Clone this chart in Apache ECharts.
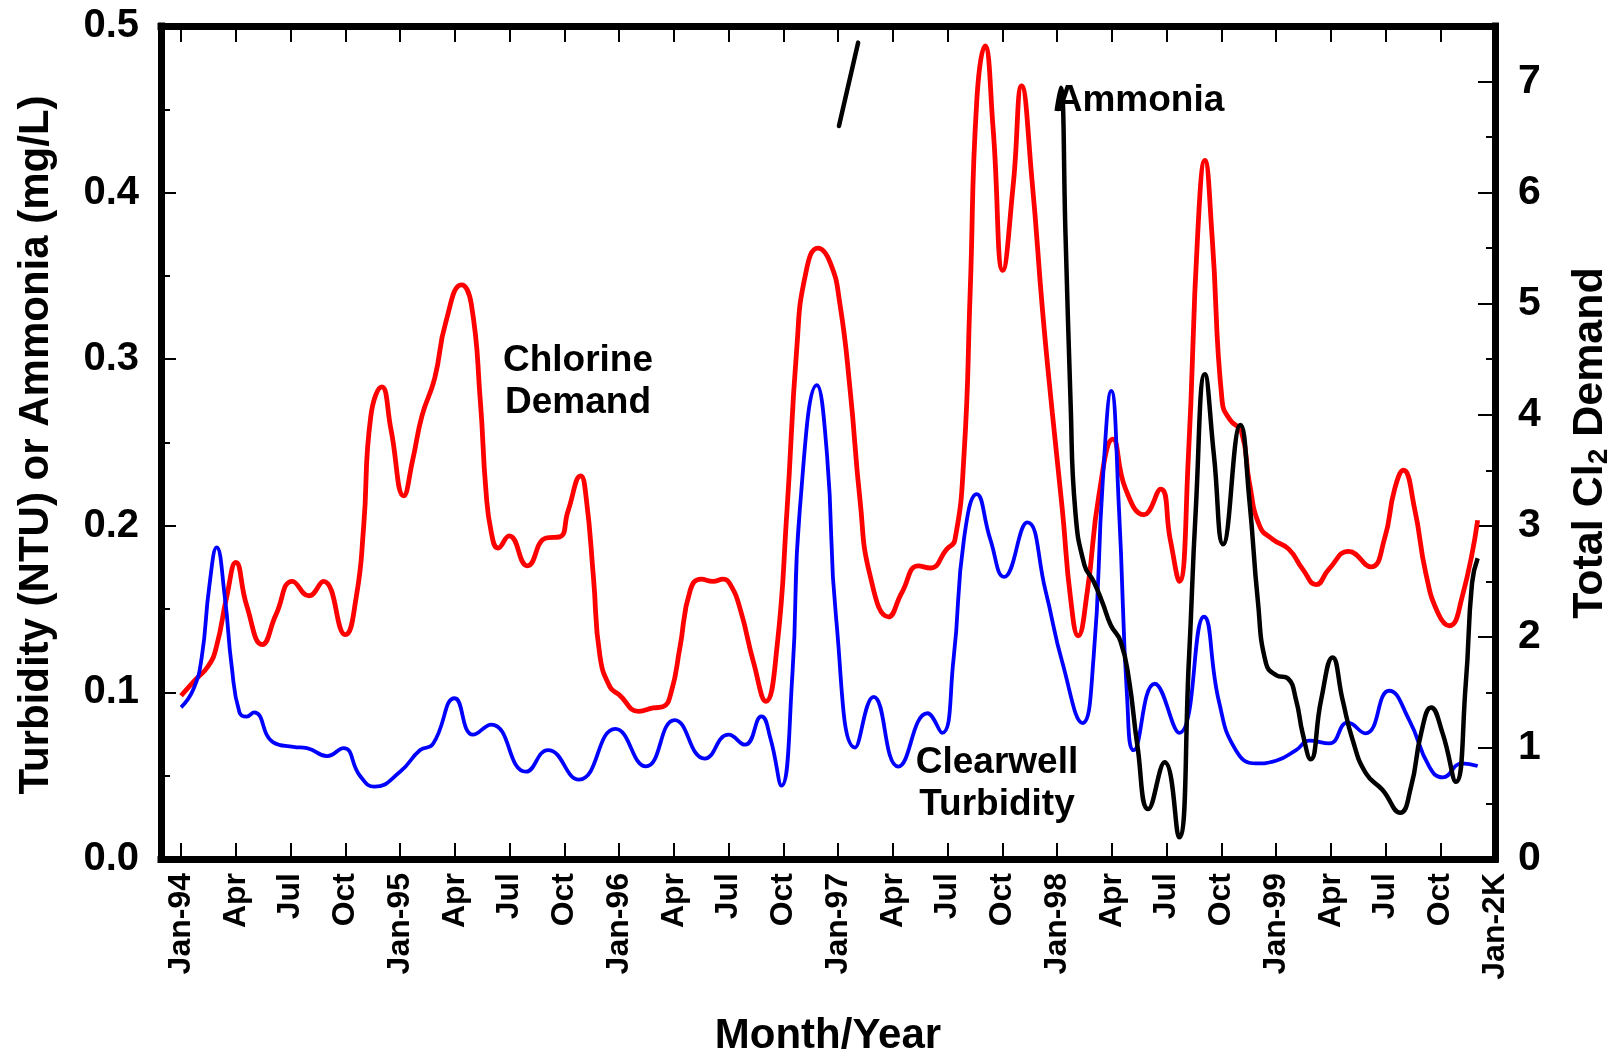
<!DOCTYPE html>
<html>
<head>
<meta charset="utf-8">
<script src="https://cdn.jsdelivr.net/npm/echarts@6/dist/echarts.min.js"></script>
<style>
html,body{margin:0;padding:0;background:#fff;}
#chart{width:1622px;height:1051px;}
</style>
</head>
<body>
<div id="chart"></div>
<script>
// x values are months since Jan-1994 (0 = Jan-94, 72 = Jan-2000)
const tickMonths = [0,3,6,9,12,15,18,21,24,27,30,33,36,39,42,45,48,51,54,57,60,63,66,69,72];
const tickLabels = ['Jan-94','Apr','Jul','Oct','Jan-95','Apr','Jul','Oct','Jan-96','Apr','Jul','Oct',
  'Jan-97','Apr','Jul','Oct','Jan-98','Apr','Jul','Oct','Jan-99','Apr','Jul','Oct','Jan-2K'];

// Total Cl2 demand (right axis)
const chlorineMonths = [0,0.7,1.5,1.95,2.5,3.0,3.6,4.45,5.2,6.1,7.0,7.8,9.0,9.6,10.0,10.4,11.0,11.5,12.2,12.7,13.2,13.9,14.5,15.37,15.9,16.4,16.7,17.0,17.37,17.98,18.98,20.0,20.75,21.2,21.9,22.2,22.6,22.95,23.5,24.0,25.08,25.87,26.4,26.87,27.33,27.9,28.5,29.15,29.7,30.1,30.64,31.37,32.05,32.65,33.2,33.74,34.2,34.9,35.57,36.1,36.67,37.2,37.76,38.77,39.5,40.4,41.05,41.96,42.4,42.9,43.24,43.6,44.05,44.5,45.03,45.6,46.06,46.64,47.2,47.74,48.3,48.74,49.16,49.66,50.3,51.06,51.76,52.76,53.68,54.2,54.7,55.2,55.7,56.1,56.5,57.05,57.5,58.1,58.54,59.1,59.8,60.7,61.46,62.2,62.9,63.98,65.2,65.94,66.5,66.98,67.6,68.2,68.86,69.5,70.2,71.05];
const chlorineDemand = [1.47,1.6,1.74,1.92,2.36,2.67,2.28,1.93,2.2,2.5,2.37,2.5,2.02,2.36,2.98,3.99,4.25,3.87,3.27,3.6,3.99,4.33,4.83,5.17,5.0,4.12,3.33,2.94,2.8,2.91,2.64,2.89,2.9,3.13,3.45,3.25,2.53,1.83,1.55,1.48,1.33,1.36,1.37,1.51,1.9,2.42,2.52,2.5,2.52,2.47,2.25,1.77,1.42,1.9,3.13,4.6,5.25,5.5,5.37,5.0,4.21,3.24,2.55,2.18,2.4,2.64,2.62,2.79,2.87,3.63,5.1,6.82,7.32,6.57,5.3,6.07,6.96,6.09,4.95,4.02,3.13,2.35,2.01,2.41,3.28,3.78,3.33,3.1,3.33,2.88,2.5,3.63,5.6,6.29,5.6,4.12,3.95,3.85,3.39,3.0,2.88,2.79,2.61,2.47,2.61,2.77,2.63,2.88,3.33,3.5,3.15,2.58,2.22,2.1,2.36,3.05];

// Clearwell turbidity (NTU, left axis)
const turbidityMonths = [0,0.68,1.13,1.55,1.95,2.4,2.77,3.2,3.6,4.0,5.05,6.15,6.9,8.0,8.9,9.8,10.6,12.0,13.1,13.8,15.0,16.0,17.0,18.9,20.1,21.8,23.8,25.47,27.05,28.7,30.0,30.9,31.8,32.3,32.9,33.5,33.9,34.84,35.4,35.9,36.94,37.95,39.3,40.9,41.7,42.33,42.9,43.6,44.34,45.1,46.37,47.37,48.3,49.4,50.0,50.5,50.97,51.4,51.85,52.2,53.35,54.7,56.05,56.87,57.8,58.9,60.0,61.1,61.83,62.92,63.93,64.9,66.2,67.3,68.4,69.13,70.2,71.05];
const turbidity = [0.091,0.102,0.121,0.164,0.187,0.157,0.116,0.088,0.0855,0.088,0.070,0.0673,0.0666,0.0618,0.0666,0.050,0.0434,0.0524,0.0654,0.069,0.0965,0.0746,0.0807,0.0524,0.0654,0.0477,0.0781,0.0556,0.0834,0.0603,0.0746,0.0686,0.0856,0.0722,0.044,0.111,0.209,0.2844,0.242,0.1438,0.0669,0.0973,0.0555,0.0875,0.0757,0.12,0.192,0.219,0.192,0.1693,0.202,0.161,0.1176,0.0816,0.1205,0.2256,0.281,0.209,0.0947,0.0653,0.1052,0.0757,0.1454,0.0947,0.0653,0.0574,0.059,0.0654,0.071,0.0694,0.0818,0.0754,0.101,0.0834,0.0554,0.049,0.0574,0.0558];

// Ammonia (mg/L, left axis) - short early segment, then 1998-1999 record
const ammoniaEarlyMonths = [36.05,37.1];
const ammoniaEarly = [0.44,0.49];
const ammoniaMonths = [47.98,48.2,48.47,48.74,49.0,49.5,50.0,50.5,50.94,51.48,51.94,52.4,53.0,53.9,54.68,55.23,55.6,56.1,56.6,57.1,58.05,58.54,59.0,59.45,60.0,60.64,61.1,61.46,61.9,62.47,63.1,63.65,64.2,64.93,65.84,66.8,67.4,67.95,68.5,69.13,69.86,70.4,70.74,71.05];
const ammonia = [0.449,0.463,0.373,0.275,0.209,0.1765,0.1667,0.1536,0.1405,0.1307,0.1078,0.0685,0.030,0.0581,0.013,0.12,0.209,0.291,0.242,0.189,0.2605,0.2155,0.1555,0.1175,0.1104,0.1085,0.0954,0.0754,0.0598,0.0954,0.121,0.0954,0.0714,0.0514,0.0414,0.0278,0.0434,0.0754,0.091,0.0754,0.0464,0.1055,0.1655,0.1805];

function pairs(xs, ys){ return xs.map((x,i)=>[x, ys[i]]); }

const FONT = '"Liberation Sans", Arial, Helvetica, sans-serif';
const chart = echarts.init(document.getElementById('chart'), null, {renderer:'canvas'});

const axisLineStyle = {color:'#000', width:7, cap:'square'};

chart.setOption({
  animation:false,
  backgroundColor:'#fff',
  grid:{left:161, right:127, top:26, bottom:192, containLabel:false},
  xAxis:[{
    type:'value', min:-1.1, max:72, position:'bottom',
    axisLine:{show:true, onZero:false, lineStyle:axisLineStyle},
    axisTick:{show:true, inside:true, length:16, customValues:tickMonths, lineStyle:{color:'#000', width:2}},
    axisLabel:{show:true, customValues:tickMonths, rotate:90, margin:14,
      fontSize:32, fontWeight:'bold', fontFamily:FONT, color:'#000',
      formatter:function(v){ const i = tickMonths.indexOf(Math.round(v)); return i>=0 ? tickLabels[i] : ''; }},
    splitLine:{show:false}
  },{
    type:'value', min:-1.1, max:72, position:'top',
    axisLine:{show:true, onZero:false, lineStyle:axisLineStyle},
    axisTick:{show:true, inside:true, length:16, customValues:tickMonths, lineStyle:{color:'#000', width:2}},
    axisLabel:{show:false},
    splitLine:{show:false}
  }],
  yAxis:[{
    type:'value', min:0, max:0.5, interval:0.1, position:'left',
    axisLine:{show:true, onZero:false, lineStyle:axisLineStyle},
    axisTick:{show:true, inside:true, length:15, lineStyle:{color:'#000', width:2}},
    minorTick:{show:true, splitNumber:2, length:9, lineStyle:{color:'#000', width:2}},
    axisLabel:{margin:22, fontSize:40, fontWeight:'bold', fontFamily:FONT, color:'#000',
      formatter:function(v){ return v.toFixed(1); }},
    splitLine:{show:false}, minorSplitLine:{show:false}
  },{
    type:'value', min:0, max:7.5, interval:1, position:'right',
    axisLine:{show:true, onZero:false, lineStyle:axisLineStyle},
    axisTick:{show:true, inside:true, length:17, lineStyle:{color:'#000', width:2}},
    minorTick:{show:true, splitNumber:2, length:9, lineStyle:{color:'#000', width:2}},
    axisLabel:{margin:23, fontSize:41, fontWeight:'bold', fontFamily:FONT, color:'#000', showMaxLabel:false,
      formatter:function(v){ return (v % 1 === 0) ? String(v) : ''; }},
    splitLine:{show:false}, minorSplitLine:{show:false}
  }],
  series:[{
    name:'Chlorine Demand', type:'line', xAxisIndex:0, yAxisIndex:1,
    data:pairs(chlorineMonths, chlorineDemand), smooth:0.5, showSymbol:false, symbol:'none',
    lineStyle:{color:'#ff0000', width:4.8}, z:3
  },{
    name:'Clearwell Turbidity', type:'line', xAxisIndex:0, yAxisIndex:0,
    data:pairs(turbidityMonths, turbidity), smooth:0.5, showSymbol:false, symbol:'none',
    lineStyle:{color:'#0000ff', width:3.8}, z:4
  },{
    name:'Ammonia', type:'line', xAxisIndex:0, yAxisIndex:0,
    data:pairs(ammoniaEarlyMonths, ammoniaEarly), smooth:false, showSymbol:false, symbol:'none',
    lineStyle:{color:'#000', width:4.5, cap:'round'}, z:5
  },{
    name:'Ammonia ', type:'line', xAxisIndex:0, yAxisIndex:0,
    data:pairs(ammoniaMonths, ammonia), smooth:0.5, showSymbol:false, symbol:'none',
    lineStyle:{color:'#000', width:4.5}, z:5
  }],
  graphic:[
    {type:'text', x:36, y:445, rotation:Math.PI/2,
      style:{text:'Turbidity (NTU) or Ammonia (mg/L)', font:'bold 42px ' + FONT, fill:'#000', align:'center', verticalAlign:'middle'}},
    {type:'text', x:1590, y:443, rotation:Math.PI/2,
      style:{text:'{a|Total Cl}{s|2}{a| Demand}', fill:'#000', align:'center', verticalAlign:'middle',
        rich:{a:{fontSize:43, fontWeight:'bold', fontFamily:FONT, lineHeight:47},
              s:{fontSize:28, fontWeight:'bold', fontFamily:FONT, verticalAlign:'bottom', lineHeight:47}}}},
    {type:'text', x:828, y:1036,
      style:{text:'Month/Year', font:'bold 42px ' + FONT, fill:'#000', align:'center', verticalAlign:'middle'}},
    {type:'text', x:578, y:340,
      style:{text:'Chlorine\nDemand', font:'bold 37px ' + FONT, lineHeight:42, fill:'#000', align:'center', verticalAlign:'top'}},
    {type:'text', x:997, y:742,
      style:{text:'Clearwell\nTurbidity', font:'bold 37px ' + FONT, lineHeight:42, fill:'#000', align:'center', verticalAlign:'top'}},
    {type:'text', x:1140, y:80,
      style:{text:'Ammonia', font:'bold 37px ' + FONT, lineHeight:42, fill:'#000', align:'center', verticalAlign:'top'}}
  ]
});
</script>
</body>
</html>
